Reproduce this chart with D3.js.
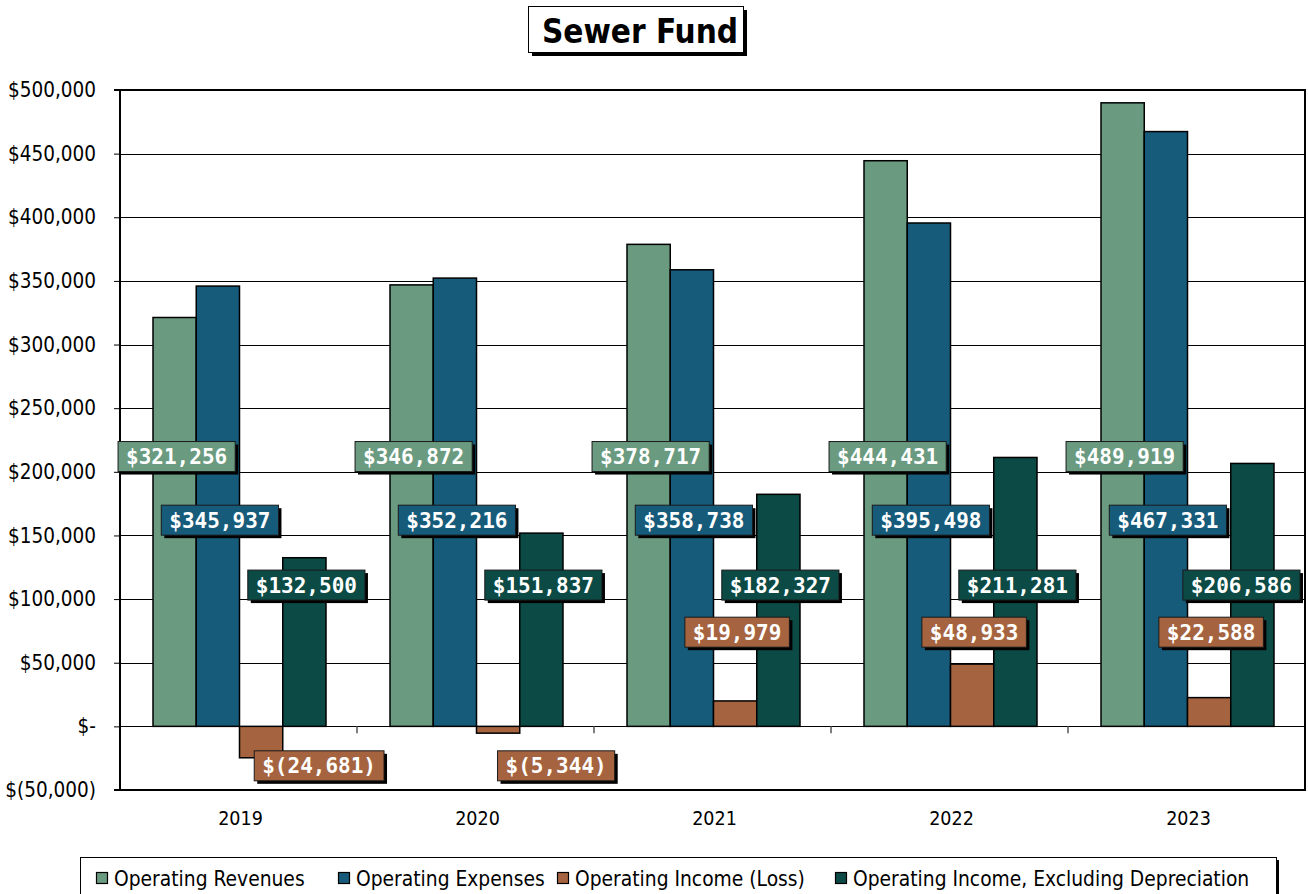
<!DOCTYPE html>
<html>
<head>
<meta charset="utf-8">
<script src="https://cdn.jsdelivr.net/npm/d3@7"></script>
<style>
  html, body { margin: 0; padding: 0; background: #ffffff; }
  svg { display: block; }
</style>
</head>
<body>
<svg id="chart" width="1308" height="894"></svg>
<script>
// ---- data ----
const years = ["2019", "2020", "2021", "2022", "2023"];
const operatingRevenues = [321256, 346872, 378717, 444431, 489919];
const operatingExpenses = [345937, 352216, 358738, 395498, 467331];
const operatingIncome = [-24681, -5344, 19979, 48933, 22588];
const operatingIncomeExDep = [132500, 151837, 182327, 211281, 206586];
const seriesNames = ["Operating Revenues", "Operating Expenses", "Operating Income (Loss)", "Operating Income, Excluding Depreciation"];
const yTicks = [-50000, 0, 50000, 100000, 150000, 200000, 250000, 300000, 350000, 400000, 450000, 500000];
const title = "Sewer Fund";

// ---- styling ----
const colors = ["#6a9b80", "#175b7b", "#a5643f", "#0b4a45"];
const seriesValues = [operatingRevenues, operatingExpenses, operatingIncome, operatingIncomeExDep];
const svg = d3.select("#chart");
const plot = { left: 120, right: 1305, top: 90, bottom: 790 };
const axisFont = "'DejaVu Sans Condensed', 'DejaVu Sans', sans-serif";
const labelFont = "'DejaVu Sans Mono', monospace";

const y = d3.scaleLinear().domain([-50000, 500000]).range([plot.bottom, plot.top]);
const x0 = d3.scaleBand().domain(years).range([plot.left, plot.right]).paddingInner(0).paddingOuter(0);
const x1 = d3.scaleBand().domain(d3.range(4)).range([0, x0.bandwidth()]).paddingInner(0).paddingOuter(0.74);

const fmtNum = d3.format(",");
function money(v) {
  if (v === 0) return "$-";
  if (v < 0) return "$(" + fmtNum(-v) + ")";
  return "$" + fmtNum(v);
}

// gridlines
svg.append("g").selectAll("line").data(yTicks).join("line")
  .attr("x1", plot.left).attr("x2", plot.right)
  .attr("y1", d => Math.round(y(d)) + 0.5).attr("y2", d => Math.round(y(d)) + 0.5)
  .attr("stroke", "#000").attr("stroke-width", 1);

// y axis
const yAxis = d3.axisLeft(y).tickValues(yTicks).tickFormat(money).tickSize(6).tickPadding(18);
const gy = svg.append("g").attr("transform", `translate(${plot.left},0)`).call(yAxis);
gy.select(".domain").remove();
gy.selectAll(".tick line").attr("stroke", "#000");
gy.selectAll(".tick text").attr("font-family", axisFont).attr("font-size", 20.5).attr("fill", "#000");

// bars
const groups = svg.append("g").selectAll("g").data(years).join("g")
  .attr("transform", d => `translate(${x0(d)},0)`);
groups.each(function(yr, i) {
  const g = d3.select(this);
  seriesValues.forEach((vals, s) => {
    const v = vals[i];
    g.append("rect")
      .attr("x", x1(s) + 1)
      .attr("width", x1.bandwidth())
      .attr("y", y(Math.max(0, v)))
      .attr("height", Math.abs(y(v) - y(0)))
      .attr("fill", colors[s])
      .attr("stroke", "#000")
      .attr("stroke-width", 1.5);
  });
});

// category ticks at zero line
svg.append("g").selectAll("line").data(years.slice(1)).join("line")
  .attr("x1", d => x0(d)).attr("x2", d => x0(d))
  .attr("y1", y(0)).attr("y2", y(0) + 7)
  .attr("stroke", "#555").attr("stroke-width", 1.5);

// plot frame
svg.append("line").attr("x1", plot.left).attr("x2", plot.left).attr("y1", plot.top).attr("y2", plot.bottom + 1)
  .attr("stroke", "#000").attr("stroke-width", 2);
svg.append("line").attr("x1", plot.left - 6).attr("x2", plot.right + 1).attr("y1", plot.bottom).attr("y2", plot.bottom)
  .attr("stroke", "#000").attr("stroke-width", 2);
svg.append("line").attr("x1", plot.left - 6).attr("x2", plot.right + 1).attr("y1", plot.top).attr("y2", plot.top)
  .attr("stroke", "#000").attr("stroke-width", 2);
svg.append("line").attr("x1", plot.right).attr("x2", plot.right).attr("y1", plot.top).attr("y2", plot.bottom)
  .attr("stroke", "#000").attr("stroke-width", 2);

// x labels
svg.append("g").selectAll("text").data(years).join("text")
  .attr("x", d => x0(d) + x0.bandwidth() / 2 + 2)
  .attr("y", 825)
  .attr("text-anchor", "middle")
  .attr("font-family", axisFont).attr("font-size", 19.5).attr("fill", "#000")
  .text(d => d);

// data labels
const labelLevel = [212000, 162000, 74000, 111000];
const labelsG = svg.append("g");
years.forEach((yr, i) => {
  seriesValues.forEach((vals, s) => {
    const v = vals[i];
    let cx = x0(yr) + x1(s) + x1.bandwidth() / 2 + 3;
    let level = labelLevel[s];
    if (s === 2 && v < 0) { level = -31000; cx += 56; }
    const cy = y(level);
    const g = labelsG.append("g");
    const shadow = g.append("rect").attr("fill", "#000");
    const box = g.append("rect").attr("fill", colors[s]).attr("stroke", "#1a1a1a").attr("stroke-width", 1);
    const t = g.append("text")
      .attr("y", cy + 7.5)
      .attr("text-anchor", "middle")
      .attr("font-family", labelFont).attr("font-weight", "bold").attr("font-size", 21)
      .attr("fill", "#fff")
      .text(money(v));
    const w = t.node().getComputedTextLength() + 16;
    const h = 30;
    cx = Math.min(cx, plot.right - 5 - w / 2);
    t.attr("x", cx);
    box.attr("x", cx - w / 2).attr("y", cy - h / 2).attr("width", w).attr("height", h);
    shadow.attr("x", cx - w / 2 + 3).attr("y", cy - h / 2 + 3).attr("width", w).attr("height", h);
  });
});

// title
const tg = svg.append("g");
const tShadow = tg.append("rect").attr("fill", "#000");
const tBox = tg.append("rect").attr("fill", "#fff").attr("stroke", "#000").attr("stroke-width", 1);
const tText = tg.append("text").attr("x", 640).attr("y", 43).attr("text-anchor", "middle")
  .attr("font-family", axisFont).attr("font-weight", "bold").attr("font-size", 33).attr("fill", "#000")
  .text(title);
tBox.attr("x", 528.5).attr("y", 6.5).attr("width", 215).attr("height", 46);
tShadow.attr("x", 532).attr("y", 10).attr("width", 215).attr("height", 46);

// legend
const lg = svg.append("g");
lg.append("rect").attr("x", 83).attr("y", 860).attr("width", 1196).attr("height", 40).attr("fill", "#000");
lg.append("rect").attr("x", 80.5).attr("y", 857.5).attr("width", 1196).attr("height", 40).attr("fill", "#fff").attr("stroke", "#000").attr("stroke-width", 1);
const legendX = [96, 338, 557, 835];
seriesNames.forEach((name, s) => {
  lg.append("rect").attr("x", legendX[s] + 0.5).attr("y", 872.5).attr("width", 11).attr("height", 11)
    .attr("fill", colors[s]).attr("stroke", "#000").attr("stroke-width", 1.2);
  lg.append("text").attr("x", legendX[s] + 18).attr("y", 886)
    .attr("font-family", axisFont).attr("font-size", 20.8).attr("fill", "#000")
    .text(name);
});
</script>
</body>
</html>
